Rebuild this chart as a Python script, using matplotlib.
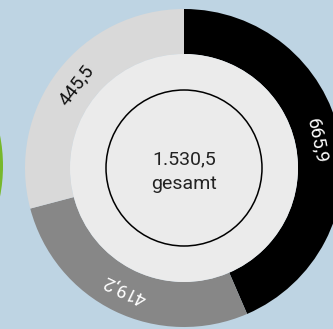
import matplotlib.pyplot as plt
import matplotlib.patches as mpatches
import numpy as np

# segment values, clockwise from 12 o'clock
labels = ["665,9", "419,2", "445,5"]
values = [665.9, 419.2, 445.5]
colors = ["#000000", "#878787", "#d9d9d9"]
text_colors = ["white", "white", "#111111"]
total_label = "1.530,5"
total_caption = "gesamt"

bg = "#bed4e3"
W, H = 333, 329
cx, cy = 184, H - 168
r_out, ring = 159, 45

plt.rcParams["font.family"] = ["Roboto", "DejaVu Sans"]

fig = plt.figure(figsize=(W / 100, H / 100), dpi=100, facecolor=bg)
ax = fig.add_axes([0, 0, 1, 1])
ax.set_facecolor(bg)

# neighbouring chart peeking in on the left
ax.add_patch(mpatches.Circle((3 - r_out, cy + 2), r_out, color="#77b82c", lw=0))

wedges, _ = ax.pie(
    values,
    colors=colors,
    startangle=90,
    counterclock=False,
    center=(cx, cy),
    radius=r_out,
    wedgeprops=dict(width=ring, linewidth=0),
    frame=True,
)

# inner disc with outlined circle
ax.add_patch(mpatches.Circle((cx, cy), r_out - ring, color="#ebebeb", lw=0))
ax.add_patch(mpatches.Circle((cx, cy), 78, fill=False, ec="black", lw=1.1))

r_mid = r_out - ring / 2 - 1
for w, lab, tc in zip(wedges, labels, text_colors):
    mid = (w.theta1 + w.theta2) / 2
    x = cx + r_mid * np.cos(np.radians(mid))
    y = cy + r_mid * np.sin(np.radians(mid))
    ax.text(x, y, lab, color=tc, fontsize=13.5, rotation=mid - 90,
            rotation_mode="anchor", ha="center", va="center")

ax.text(cx, cy + 9, total_label, ha="center", va="center", fontsize=14, color="#222222")
ax.text(cx, cy - 16, total_caption, ha="center", va="center", fontsize=14, color="#222222")

ax.set_xlim(0, W)
ax.set_ylim(0, H)
ax.set_aspect("equal")
ax.axis("off")

fig.savefig("out.png", dpi=100, facecolor=bg)
